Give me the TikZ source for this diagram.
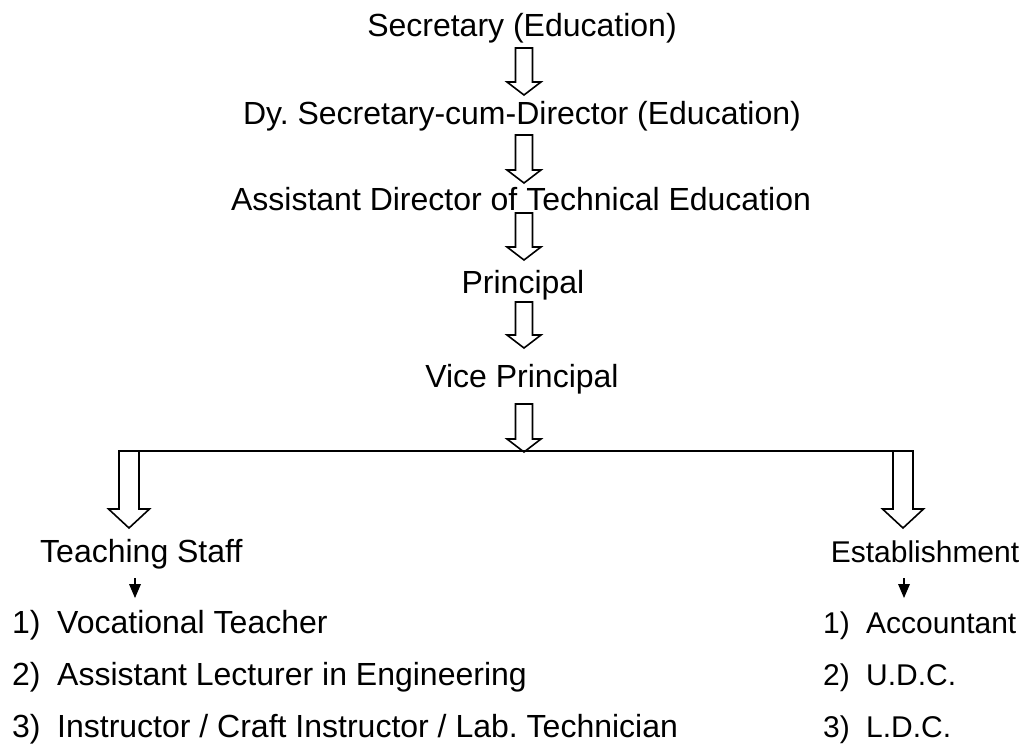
\documentclass[tikz,border=0pt]{standalone}
\usepackage{fontspec}
\setmainfont{Liberation Sans}
\begin{document}
\begin{tikzpicture}[x=1bp,y=-1bp,
  lbl/.style={inner sep=0pt,anchor=base,font=\fontsize{32bp}{38bp}\selectfont},
  low/.style={inner sep=0pt,anchor=base west,font=\fontsize{32bp}{38bp}\selectfont},
  lowr/.style={inner sep=0pt,anchor=base west,font=\fontsize{30bp}{36bp}\selectfont},
  barr/.style={draw=black,line width=1.6bp,fill=white,line join=miter},
  stem/.style={draw=black,line width=1.6bp},
  tipfill/.style={fill=black}]
\useasboundingbox (0,0) rectangle (1019,745);
\newcommand\barrow[6]{%
  \draw[barr] ({#1-#4},#2) -- ({#1+#4},#2) -- ({#1+#4},{#3-#6}) -- ({#1+#5},{#3-#6})
    -- (#1,#3) -- ({#1-#5},{#3-#6}) -- ({#1-#4},{#3-#6}) -- cycle;}
% titles
\node[lbl] (sec) at (522,37) {Secretary (Education)};
\node[lbl] (dy) at (522,124) {Dy.\ Secretary-cum-Director (Education)};
\node[lbl] (ad) at (521,210) {Assistant Director of Technical Education};
\node[lbl] (pr) at (523,293) {Principal};
\node[lbl] (vp) at (522,387) {Vice Principal};
% block arrows
\barrow{524}{48}{95}{8.5}{17}{13}
\barrow{524}{135}{183}{8.5}{17}{13}
\barrow{524}{213}{260}{8.5}{17}{13}
\barrow{524}{302}{348}{8.5}{17}{13}
\barrow{524}{404}{452}{8.5}{17}{13}
% branch line
\coordinate (bl) at (119,451);
\coordinate (br) at (913,451);
\draw[line width=1.6bp] (bl) -- (br);
\barrow{129}{451}{528}{10}{20.5}{19}
\barrow{903}{451}{528}{10}{20.5}{19}
% branch labels
\node[low] (ts) at (40,562) {Teaching Staff};
\node[lowr,anchor=base] (es) at (925,562) {Establishment};
\coordinate (ta) at (135,578);
\coordinate (tb) at (135,598);
\coordinate (ea) at (904,578);
\coordinate (eb) at (904,598);
\draw[stem] (ta) -- ([yshift=10bp]tb);
\fill[tipfill] (tb) -- ++(-6,-14) -- ++(12,0) -- cycle;
\draw[stem] (ea) -- ([yshift=10bp]eb);
\fill[tipfill] (eb) -- ++(-6,-14) -- ++(12,0) -- cycle;
% lists
\node[low] (n1) at (12,633) {1)};
\node[low] (t1) at (57,633) {Vocational Teacher};
\node[low] (n2) at (12,685) {2)};
\node[low] (t2) at (57,685) {Assistant Lecturer in Engineering};
\node[low] (n3) at (12,737) {3)};
\node[low] (t3) at (57,737) {Instructor / Craft Instructor / Lab.\ Technician};
\node[lowr] (m1) at (823,633) {1)};
\node[lowr] (u1) at (866,633) {Accountant};
\node[lowr] (m2) at (823,685) {2)};
\node[lowr] (u2) at (866,685) {U.D.C.};
\node[lowr] (m3) at (823,737) {3)};
\node[lowr] (u3) at (866,737) {L.D.C.};
\end{tikzpicture}
\end{document}
